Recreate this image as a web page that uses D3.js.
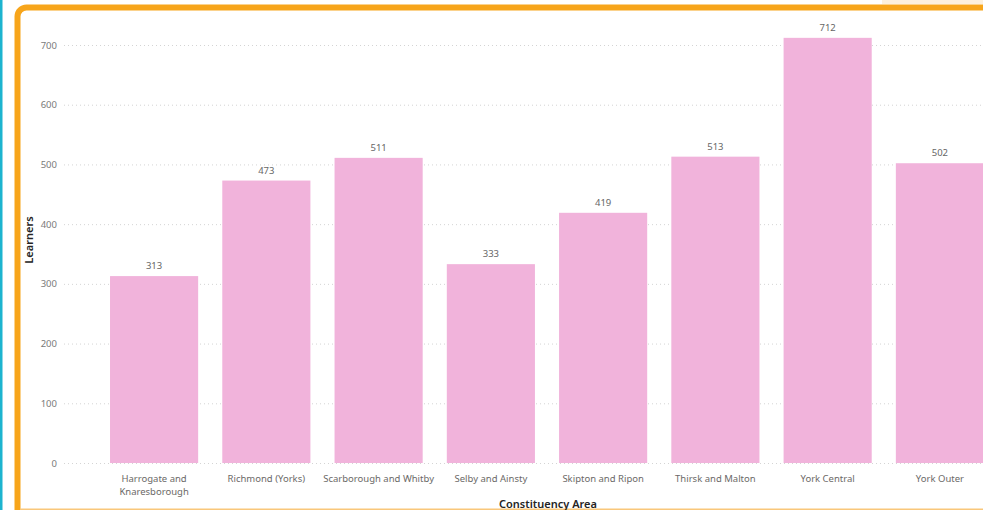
<!DOCTYPE html>
<html>
<head>
<meta charset="utf-8">
<script src="https://cdn.jsdelivr.net/npm/d3@7"></script>
<style>
  body { margin: 0; background: #fff; }
  svg { display: block; font-family: "Segoe UI", "Noto Sans", sans-serif; }
</style>
</head>
<body>
<script>
const canvWidth = 983, canvHeight = 510;

// data
const areas = ["Harrogate and Knaresborough", "Richmond (Yorks)", "Scarborough and Whitby",
  "Selby and Ainsty", "Skipton and Ripon", "Thirsk and Malton", "York Central", "York Outer"];
const learners = [313, 473, 511, 333, 419, 513, 712, 502];
const yTicks = [0, 100, 200, 300, 400, 500, 600, 700];

const svg = d3.select("body").append("svg")
    .attr("width", canvWidth)
    .attr("height", canvHeight);

// teal edge of the neighbouring visual + orange focus frame
svg.append("rect")
    .attr("x", 0).attr("y", 0)
    .attr("width", 2.5).attr("height", canvHeight)
    .attr("fill", "#1db4cf");

svg.append("rect")
    .attr("x", 882).attr("y", 0)
    .attr("width", 101).attr("height", 4)
    .attr("fill", "#fdf0dc");

svg.append("rect")
    .attr("x", 17.5).attr("y", 7.5)
    .attr("width", 1000).attr("height", 530)
    .attr("rx", 9)
    .attr("fill", "none")
    .attr("stroke", "#f7a51b")
    .attr("stroke-width", 6);

svg.append("rect")
    .attr("x", 20).attr("y", 508.5)
    .attr("width", canvWidth).attr("height", 1.5)
    .attr("fill", "#f9c77a");

const plot = {left: 64, right: 1030, top: 45, bottom: 463};

const xScale = d3.scaleBand()
    .domain(areas)
    .range([plot.left, plot.right])
    .paddingInner(0.215)
    .paddingOuter(0.41);

const yScale = d3.scaleLinear()
    .domain([0, 700])
    .range([plot.bottom, plot.top]);

// gridlines
svg.append("g")
    .selectAll("line")
    .data(yTicks)
    .enter().append("line")
    .attr("x1", plot.left)
    .attr("x2", canvWidth)
    .attr("y1", d => yScale(d) + 0.5)
    .attr("y2", d => yScale(d) + 0.5)
    .attr("stroke", "#d4d4d4")
    .attr("stroke-width", 1)
    .attr("stroke-dasharray", "1,3");

// y axis labels
const yAxis = d3.axisLeft(yScale).tickValues(yTicks).tickSize(0).tickPadding(0);
const yg = svg.append("g")
    .attr("transform", `translate(${plot.left - 7},0)`)
    .call(yAxis);
yg.select(".domain").remove();
yg.selectAll("text")
    .attr("fill", "#7a7a7a")
    .attr("font-size", "9.5px")
    .attr("font-family", "\"Segoe UI\", \"Noto Sans\", sans-serif");

// bars
svg.append("g")
    .selectAll("rect")
    .data(learners)
    .enter().append("rect")
    .attr("x", (d, i) => xScale(areas[i]))
    .attr("y", d => yScale(d))
    .attr("width", xScale.bandwidth())
    .attr("height", d => yScale(0) - yScale(d))
    .attr("fill", "#f1b3db");

// data labels
svg.append("g")
    .selectAll("text")
    .data(learners)
    .enter().append("text")
    .attr("x", (d, i) => xScale(areas[i]) + xScale.bandwidth() / 2)
    .attr("y", d => yScale(d) - 7)
    .attr("text-anchor", "middle")
    .attr("font-size", "9.5px")
    .attr("fill", "#666666")
    .text(d => d);

// x category labels (wrapped like the original)
const xLines = {"Harrogate and Knaresborough": ["Harrogate and", "Knaresborough"]};
const xg = svg.append("g");
areas.forEach(a => {
    const lines = xLines[a] || [a];
    const t = xg.append("text")
        .attr("x", xScale(a) + xScale.bandwidth() / 2)
        .attr("y", 482)
        .attr("text-anchor", "middle")
        .attr("font-size", "9.5px")
        .attr("fill", "#6b6967");
    lines.forEach((l, j) => {
        t.append("tspan")
            .attr("x", xScale(a) + xScale.bandwidth() / 2)
            .attr("dy", j === 0 ? 0 : 13)
            .text(l);
    });
});

// axis titles
svg.append("text")
    .attr("x", 548)
    .attr("y", 508)
    .attr("text-anchor", "middle")
    .attr("font-size", "11px")
    .attr("font-weight", 600)
    .attr("fill", "#252423")
    .text("Constituency Area");

svg.append("text")
    .attr("transform", "rotate(-90)")
    .attr("x", -240)
    .attr("y", 33)
    .attr("text-anchor", "middle")
    .attr("font-size", "11px")
    .attr("font-weight", 600)
    .attr("fill", "#252423")
    .text("Learners");
</script>
</body>
</html>
